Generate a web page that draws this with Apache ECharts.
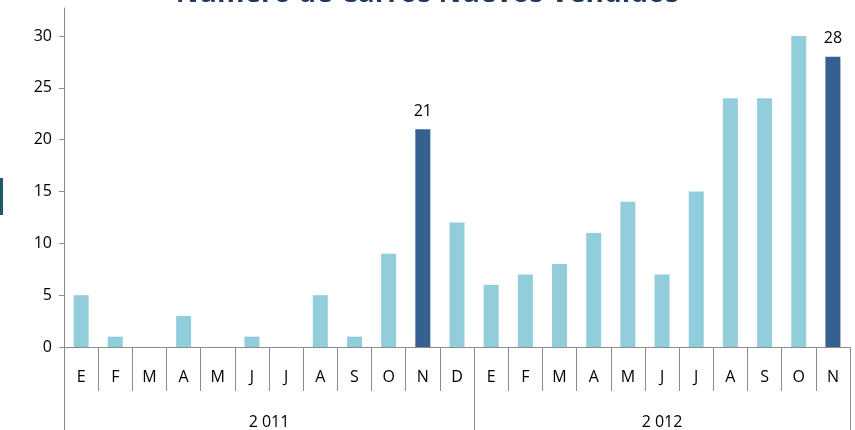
<!DOCTYPE html>
<html>
<head>
<meta charset="utf-8">
<script src="https://cdn.jsdelivr.net/npm/echarts@6/dist/echarts.min.js"></script>
<style>
  html, body { margin: 0; padding: 0; background: #fff; }
  #chart { width: 855px; height: 430px; }
</style>
</head>
<body>
<div id="chart"></div>
<script>
'use strict';

// meses (2011 completo, 2012 hasta noviembre)
var months = ['E', 'F', 'M', 'A', 'M', 'J', 'J', 'A', 'S', 'O', 'N', 'D',
              'E', 'F', 'M', 'A', 'M', 'J', 'J', 'A', 'S', 'O', 'N'];
var sales = [5, 1, 0, 3, 0, 1, 0, 5, 1, 9, 21, 12,
             6, 7, 8, 11, 14, 7, 15, 24, 24, 30, 28];
var highlighted = [10, 22]; // noviembre de cada año
var years = ['2 011', '2 012'];
var yearCenters = [6, 17.5];
var yearBounds = [0, 12, 23];
var monthBounds = [];
for (var b = 0; b <= months.length; b++) monthBounds.push(b);
var yTicks = [0, 5, 10, 15, 20, 25, 30];

var font = 'Open Sans';

var barData = [];
for (var i = 0; i < sales.length; i++) {
  var hot = highlighted.indexOf(i) >= 0;
  barData.push({
    value: sales[i],
    itemStyle: { color: hot ? '#366092' : '#92CDDC' },
    label: { show: hot }
  });
}

var chart = echarts.init(document.getElementById('chart'));
var option = {
  animation: false,
  title: {
    text: 'Número de Carros Nuevos Vendidos',
    left: 'center',
    top: -25,
    textStyle: { fontFamily: font, fontSize: 28, fontWeight: 'bold', color: '#1F3864' }
  },
  graphic: [{
    type: 'rect',
    shape: { x: 0, y: 178, width: 3, height: 37 },
    style: { fill: '#215968' }
  }],
  grid: { left: 64, right: 5, top: 8, bottom: 83 },
  xAxis: [
    {
      type: 'category',
      data: months,
      axisLine: { lineStyle: { color: '#8c8c8c', width: 1 } },
      axisTick: { show: false },
      axisLabel: { margin: 22, fontFamily: font, fontSize: 16, color: '#000' }
    },
    {
      // eje auxiliar para separadores de meses
      type: 'value',
      position: 'bottom',
      min: 0,
      max: months.length,
      axisLine: { show: false },
      splitLine: { show: false },
      axisTick: { show: true, length: 44, customValues: monthBounds, lineStyle: { color: '#8c8c8c' } },
      axisLabel: { show: false }
    },
    {
      // eje de años
      type: 'value',
      position: 'bottom',
      min: 0,
      max: months.length,
      axisLine: { show: false },
      splitLine: { show: false },
      axisTick: { show: true, length: 84, customValues: yearBounds, lineStyle: { color: '#8c8c8c' } },
      axisLabel: {
        margin: 67,
        customValues: yearCenters,
        fontFamily: font, fontSize: 16, color: '#000',
        formatter: function(v) {
          return years[yearCenters.indexOf(v)] || '';
        }
      }
    }
  ],
  yAxis: {
    type: 'value',
    min: 0,
    max: 32.7,
    axisLine: { show: true, lineStyle: { color: '#8c8c8c' } },
    axisTick: { show: true, length: 5, customValues: yTicks, lineStyle: { color: '#8c8c8c' } },
    splitLine: { show: false },
    axisLabel: {
      margin: 12,
      customValues: yTicks,
      fontFamily: font, fontSize: 16, color: '#000'
    }
  },
  series: [{
    type: 'bar',
    xAxisIndex: 0,
    data: barData,
    barWidth: 15,
    label: {
      position: 'top',
      distance: 10,
      fontFamily: font, fontSize: 16, color: '#000'
    }
  }]
};

chart.setOption(option);
window.onresize = chart.resize;
</script>
</body>
</html>
